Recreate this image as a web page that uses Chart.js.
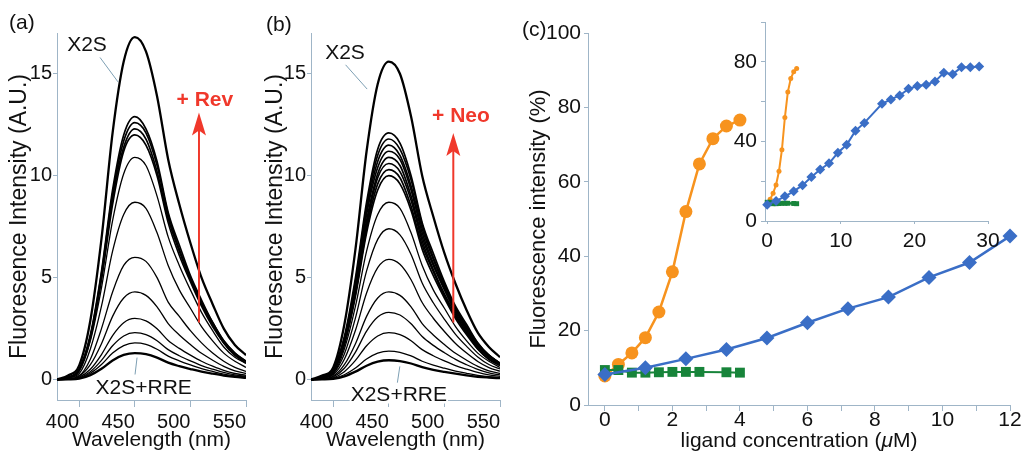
<!DOCTYPE html>
<html>
<head>
<meta charset="utf-8">
<script src="https://cdn.jsdelivr.net/npm/chart.js@4.4.0/dist/chart.umd.min.js"></script>
<style>
  body { margin: 0; background: #fff; width: 1026px; height: 453px; position: relative; overflow: hidden; font-family: "Liberation Sans", Arial, sans-serif; }
  canvas { position: absolute; top: 0; }
  .panel { position: absolute; font-size: 21px; line-height: 24px; color: #111; }
</style>
</head>
<body>
<canvas id="grafA" width="254" height="453" style="left:0"></canvas>
<canvas id="grafB" width="262" height="453" style="left:254px"></canvas>
<canvas id="grafC" width="510" height="453" style="left:516px"></canvas>
<canvas id="grafInset" width="306" height="256" style="left:720px"></canvas>
<div class="panel" style="left:9px;top:10px">(a)</div>
<div class="panel" style="left:266px;top:12px">(b)</div>
<div class="panel" style="left:522px;top:17px">(c)</div>
<script>
// DATOS
const wavelengths = [380, 390, 400, 410, 420, 430, 440, 450, 460, 470, 480, 490, 500, 510, 520, 530, 540, 550];

// (a) X2S + Rev, de X2S (arriba) a X2S+RRE (abajo)
const spectraRev = [
  [0, 0.2, 0.7, 2.9, 6.9, 12.1, 15.6, 16.8, 16.1, 13.9, 10.8, 8.6, 6.7, 5.0, 3.7, 2.5, 1.7, 1.2],
  [0, 0.1, 0.5, 2.2, 5.3, 9.3, 12.0, 12.9, 12.3, 10.7, 8.2, 6.6, 5.1, 3.9, 2.8, 1.9, 1.3, 0.9],
  [0, 0.1, 0.5, 2.1, 5.2, 9.1, 11.7, 12.6, 12.1, 10.5, 8.1, 6.4, 5.0, 3.8, 2.8, 1.9, 1.3, 0.9],
  [0, 0.1, 0.5, 2.1, 5.0, 8.9, 11.4, 12.3, 11.8, 10.2, 7.9, 6.3, 4.9, 3.7, 2.7, 1.8, 1.2, 0.9],
  [0, 0.1, 0.5, 2.0, 4.9, 8.6, 11.2, 12.0, 11.5, 10.0, 7.7, 6.1, 4.8, 3.6, 2.6, 1.8, 1.2, 0.8],
  [0, 0.1, 0.4, 1.9, 4.5, 7.8, 10.1, 10.9, 10.5, 9.0, 7.0, 5.6, 4.4, 3.3, 2.4, 1.6, 1.1, 0.8],
  [0, 0.1, 0.3, 1.5, 3.6, 6.3, 8.1, 8.7, 8.4, 7.2, 5.6, 4.4, 3.5, 2.6, 1.9, 1.3, 0.9, 0.6],
  [0, 0.1, 0.2, 1.0, 2.5, 4.3, 5.6, 6.0, 5.8, 5.0, 3.8, 3.1, 2.4, 1.8, 1.3, 0.9, 0.6, 0.4],
  [0, 0.04, 0.17, 0.73, 1.76, 3.10, 4.00, 4.30, 4.13, 3.57, 2.75, 2.19, 1.72, 1.29, 0.95, 0.65, 0.43, 0.30],
  [0, 0.03, 0.12, 0.51, 1.23, 2.16, 2.79, 3.00, 2.88, 2.49, 1.92, 1.53, 1.20, 0.90, 0.66, 0.45, 0.30, 0.21],
  [0, 0.02, 0.09, 0.39, 0.94, 1.66, 2.14, 2.30, 2.21, 1.91, 1.47, 1.17, 0.92, 0.69, 0.51, 0.35, 0.23, 0.16],
  [0, 0.02, 0.07, 0.31, 0.74, 1.30, 1.67, 1.80, 1.73, 1.49, 1.15, 0.92, 0.72, 0.54, 0.40, 0.27, 0.18, 0.13],
  [0, 0.01, 0.05, 0.22, 0.53, 0.94, 1.21, 1.30, 1.25, 1.08, 0.83, 0.66, 0.52, 0.39, 0.29, 0.20, 0.13, 0.09]
];

// (b) X2S + Neo
const spectraNeo = [
  [0, 0.2, 0.6, 2.7, 6.4, 11.2, 14.5, 15.6, 15.0, 12.9, 10.0, 8.0, 6.2, 4.7, 3.4, 2.3, 1.6, 1.1],
  [0, 0.1, 0.5, 2.1, 5.0, 8.7, 11.3, 12.1, 11.6, 10.0, 7.7, 6.2, 4.8, 3.6, 2.7, 1.8, 1.2, 0.8],
  [0, 0.1, 0.5, 2.0, 4.8, 8.5, 11.0, 11.8, 11.3, 9.8, 7.6, 6.0, 4.7, 3.5, 2.6, 1.8, 1.2, 0.8],
  [0, 0.1, 0.5, 2.0, 4.7, 8.3, 10.7, 11.5, 11.0, 9.5, 7.4, 5.9, 4.6, 3.5, 2.5, 1.7, 1.2, 0.8],
  [0, 0.1, 0.4, 1.9, 4.6, 8.1, 10.4, 11.2, 10.8, 9.3, 7.2, 5.7, 4.5, 3.4, 2.5, 1.7, 1.1, 0.8],
  [0, 0.1, 0.4, 1.9, 4.5, 7.8, 10.1, 10.9, 10.5, 9.0, 7.0, 5.6, 4.4, 3.3, 2.4, 1.6, 1.1, 0.8],
  [0, 0.1, 0.4, 1.8, 4.3, 7.6, 9.9, 10.6, 10.2, 8.8, 6.8, 5.4, 4.2, 3.2, 2.3, 1.6, 1.1, 0.7],
  [0, 0.1, 0.4, 1.8, 4.2, 7.4, 9.6, 10.3, 9.9, 8.5, 6.6, 5.3, 4.1, 3.1, 2.3, 1.5, 1.0, 0.7],
  [0, 0.1, 0.4, 1.7, 4.1, 7.2, 9.3, 10.0, 9.6, 8.3, 6.4, 5.1, 4.0, 3.0, 2.2, 1.5, 1.0, 0.7],
  [0, 0.1, 0.3, 1.5, 3.6, 6.3, 8.1, 8.7, 8.4, 7.2, 5.6, 4.4, 3.5, 2.6, 1.9, 1.3, 0.9, 0.6],
  [0, 0.07, 0.30, 1.26, 3.03, 5.33, 6.88, 7.40, 7.10, 6.14, 4.74, 3.77, 2.96, 2.22, 1.63, 1.11, 0.74, 0.52],
  [0, 0.06, 0.24, 1.00, 2.42, 4.25, 5.49, 5.90, 5.66, 4.90, 3.78, 3.01, 2.36, 1.77, 1.30, 0.89, 0.59, 0.41],
  [0, 0.04, 0.17, 0.73, 1.76, 3.10, 4.00, 4.30, 4.13, 3.57, 2.75, 2.19, 1.72, 1.29, 0.95, 0.65, 0.43, 0.30],
  [0, 0.03, 0.13, 0.56, 1.35, 2.38, 3.07, 3.30, 3.17, 2.74, 2.11, 1.68, 1.32, 0.99, 0.73, 0.50, 0.33, 0.23],
  [0, 0.02, 0.09, 0.39, 0.94, 1.66, 2.14, 2.30, 2.21, 1.91, 1.47, 1.17, 0.92, 0.69, 0.51, 0.35, 0.23, 0.16],
  [0, 0.01, 0.06, 0.24, 0.57, 1.01, 1.30, 1.40, 1.34, 1.16, 0.90, 0.71, 0.56, 0.42, 0.31, 0.21, 0.14, 0.10],
  [0, 0.01, 0.04, 0.16, 0.39, 0.68, 0.88, 0.95, 0.91, 0.79, 0.61, 0.48, 0.38, 0.29, 0.21, 0.14, 0.10, 0.07]
];

// (c) valoracion con ligando
const orangeX = [0, 0.4, 0.8, 1.2, 1.6, 2.0, 2.4, 2.8, 3.2, 3.6, 4.0];
const orangeY = [7.8, 10.9, 14.0, 18.1, 25.0, 35.8, 52.0, 64.8, 71.6, 75.0, 76.6];
const greenX = [0, 0.4, 0.8, 1.2, 1.6, 2.0, 2.4, 2.8, 3.6, 4.0];
const greenY = [9.4, 9.4, 8.7, 8.7, 8.8, 8.9, 8.9, 8.9, 8.8, 8.7];
const blueX = [0, 1.2, 2.4, 3.6, 4.8, 6.0, 7.2, 8.4, 9.6, 10.8, 12.0, 13.2, 15.6, 16.8, 18.0, 19.2, 20.4, 21.6, 22.8, 24.0, 25.2, 26.4, 27.6, 28.8];
const blueY = [8.2, 10.0, 12.4, 14.9, 18.0, 22.1, 25.9, 29.0, 34.3, 38.3, 45.4, 49.3, 58.9, 61.1, 63.1, 66.4, 67.8, 68.5, 70.1, 74.5, 73.8, 77.3, 77.3, 77.7];

// ticks
const specTicksX = [400, 450, 500, 550];
const specTicksY = [0, 5, 10, 15];
const ligTicksX = [0, 1, 2, 3, 4, 5, 6, 7, 8, 9, 10, 11, 12];
const ligLabelsX = [0, 2, 4, 6, 8, 10, 12];
const ligTicksY = [0, 20, 40, 60, 80, 100];
const insetTicksX = [0, 10, 20, 30];
const insetTicksY = [0, 20, 40, 60, 80, 100];
const insetLabelsY = [0, 40, 80];

const FONT = '"Liberation Sans", Arial, sans-serif';
const AXIS = '#9fb5c7';
const ROJO = '#f0382b';
const NARANJA = '#f7931e';
const AZUL = '#3a6ec6';
const VERDE = '#17843a';

const pares = (xs, ys) => xs.map((v, i) => ({ x: v, y: ys[i] }));

function escala(o) {
  const etiquetas = o.labels || o.ticks;
  return {
    type: 'linear', min: o.min, max: o.max, bounds: 'data',
    border: { color: AXIS, width: 1 },
    grid: { drawOnChartArea: false, drawTicks: true, tickLength: o.tl, color: AXIS },
    ticks: {
      autoSkip: false, maxRotation: 0, padding: o.pad, align: o.align || 'center',
      color: '#111', font: { family: FONT, size: o.fs || 20 },
      callback: v => etiquetas.includes(v) ? String(v) : ''
    },
    title: o.title ? { display: true, text: o.title, color: '#111', font: { family: FONT, size: o.tfs || 21 }, padding: o.tpad } : { display: false },
    afterBuildTicks: s => { s.ticks = o.ticks.map(v => ({ value: v })); },
    afterFit: s => {
      if (s.isHorizontal()) s.height = o.size; else s.width = o.size;
      s.paddingLeft = 0; s.paddingRight = 0; s.paddingTop = 0; s.paddingBottom = 0;
    }
  };
}

// textos, guias y flecha sobre los espectros
const anotaciones = {
  id: 'anotaciones',
  afterDatasetsDraw(chart, args, o) {
    if (!o.textos) return;
    const ctx = chart.ctx, sx = chart.scales.x, sy = chart.scales.y;
    const px = v => sx.getPixelForValue(v), py = v => sy.getPixelForValue(v);
    ctx.save();
    ctx.strokeStyle = '#7d9fb3'; ctx.lineWidth = 1;
    o.guias.forEach(g => {
      ctx.beginPath(); ctx.moveTo(px(g[0]), py(g[1])); ctx.lineTo(px(g[2]), py(g[3])); ctx.stroke();
    });
    const f = o.flecha, fx = px(f.x), y0 = py(f.desde), y1 = py(f.hasta);
    ctx.strokeStyle = ROJO; ctx.lineWidth = 2;
    ctx.beginPath(); ctx.moveTo(fx, y0); ctx.lineTo(fx, y1 + 16); ctx.stroke();
    ctx.fillStyle = ROJO;
    ctx.beginPath(); ctx.moveTo(fx, y1); ctx.lineTo(fx - 7, y1 + 23); ctx.lineTo(fx, y1 + 18); ctx.lineTo(fx + 7, y1 + 23); ctx.closePath(); ctx.fill();
    ctx.textAlign = 'center'; ctx.textBaseline = 'middle';
    o.textos.forEach(t => {
      ctx.font = (t.negrita ? 'bold ' : '') + '21px ' + FONT;
      const tx = px(t.x), ty = py(t.y);
      if (t.fondo) {
        const w = ctx.measureText(t.texto).width;
        ctx.fillStyle = '#fff'; ctx.fillRect(tx - w / 2 - 1, ty - 8, w + 2, 16);
      }
      ctx.fillStyle = t.color || '#111';
      ctx.fillText(t.texto, tx, ty);
    });
    ctx.restore();
  }
};

function espectro(id, curvas, ancho, notas) {
  const ultimo = curvas.length - 1;
  return new Chart(document.getElementById(id), {
    type: 'line',
    data: {
      datasets: curvas.map((c, i) => ({
        data: pares(wavelengths, c),
        borderColor: '#000',
        borderWidth: (i === 0 || i === ultimo) ? 2.3 : (i <= ancho ? 1.7 : 1.3),
        pointRadius: 0, cubicInterpolationMode: 'monotone', fill: false
      }))
    },
    options: {
      responsive: false, animation: false, devicePixelRatio: 1, events: [],
      layout: { padding: { left: 0, top: 33, right: id === 'grafA' ? 8 : 16, bottom: 0 } },
      plugins: { legend: { display: false }, tooltip: { enabled: false }, anotaciones: notas },
      scales: {
        x: escala({ min: 380, max: 550, ticks: specTicksX, size: 53, tl: 7, pad: 3, align: 'end',
                    title: 'Wavelength (nm)', tpad: { top: 0, bottom: 0 } }),
        y: escala({ min: -1, max: 17, ticks: specTicksY, size: 57, tl: 4, pad: 1, tfs: 23,
                    title: 'Fluoresence Intensity (A.U.)', tpad: { top: id === 'grafA' ? 6 : 8, bottom: 0 } })
      }
    },
    plugins: [anotaciones]
  });
}

// GRAFICO (a)
espectro('grafA', spectraRev, 4, {
  textos: [
    { texto: 'X2S', x: 407, y: 16.4 },
    { texto: '+ Rev', x: 513, y: 13.7, negrita: true, color: ROJO },
    { texto: 'X2S+RRE', x: 458, y: -0.4 }
  ],
  guias: [[418.7, 15.8, 434.9, 14.6], [450.2, 0.25, 452, 1.08]],
  flecha: { x: 507.7, desde: 2.8, hasta: 13.1 }
});

// GRAFICO (b)
espectro('grafB', spectraNeo, 8, {
  textos: [
    { texto: 'X2S', x: 410.6, y: 16.0 },
    { texto: '+ Neo', x: 514.9, y: 12.9, negrita: true, color: ROJO },
    { texto: 'X2S+RRE', x: 459, y: -0.78, fondo: true }
  ],
  guias: [[411.1, 15.44, 430.5, 14.25], [457.7, -0.15, 459.9, 0.65]],
  flecha: { x: 508, desde: 2.8, hasta: 12.1 }
});

// titulo del eje x de (c) con la mu en cursiva
const tituloMu = {
  id: 'tituloMu',
  afterDraw(chart) {
    const ctx = chart.ctx, a = chart.chartArea;
    const partes = [['ligand concentration (', '21px '], ['\u03bc', 'italic 21px '], ['M)', '21px ']];
    ctx.save();
    let total = 0;
    partes.forEach(p => { ctx.font = p[1] + FONT; total += ctx.measureText(p[0]).width; });
    let x = (a.left + a.right) / 2 - total / 2;
    ctx.fillStyle = '#111'; ctx.textBaseline = 'middle'; ctx.textAlign = 'left';
    partes.forEach(p => { ctx.font = p[1] + FONT; ctx.fillText(p[0], x, 441); x += ctx.measureText(p[0]).width; });
    ctx.restore();
  }
};

const opcionesBase = {
  responsive: false, animation: false, devicePixelRatio: 1, events: [],
  plugins: { legend: { display: false }, tooltip: { enabled: false } }
};

// GRAFICO (c)
new Chart(document.getElementById('grafC'), {
  type: 'line',
  data: {
    datasets: [
      { data: pares(blueX.slice(0, 11), blueY.slice(0, 11)), borderColor: AZUL, borderWidth: 2.5,
        pointStyle: 'rectRot', pointRadius: 7.5, pointBackgroundColor: AZUL, pointBorderWidth: 0, clip: false },
      { data: pares(greenX, greenY), borderColor: VERDE, borderWidth: 2,
        pointStyle: 'rect', pointRadius: 7, pointBackgroundColor: VERDE, pointBorderWidth: 0, clip: false },
      { data: pares(orangeX, orangeY), borderColor: NARANJA, borderWidth: 2.5,
        pointStyle: 'circle', pointRadius: 6.5, pointBackgroundColor: NARANJA, pointBorderWidth: 0, clip: false }
    ]
  },
  options: {
    ...opcionesBase,
    layout: { padding: { left: 0, top: 33, right: 16, bottom: 0 } },
    scales: {
      x: escala({ min: -0.5, max: 12, ticks: ligTicksX, labels: ligLabelsX, size: 48, tl: 6, pad: -3, fs: 21 }),
      y: escala({ min: 0, max: 100, ticks: ligTicksY, size: 72, tl: 4, pad: 3, fs: 21, tfs: 22,
                  title: 'Fluorescence intensity (%)', tpad: { top: 10, bottom: 0 } })
    }
  },
  plugins: [tituloMu]
});

// RECUADRO (inset)
new Chart(document.getElementById('grafInset'), {
  type: 'line',
  data: {
    datasets: [
      { data: pares(blueX, blueY), borderColor: AZUL, borderWidth: 2,
        pointStyle: 'rectRot', pointRadius: 5, pointBackgroundColor: AZUL, pointBorderWidth: 0, clip: false },
      { data: pares(greenX, greenY), borderColor: VERDE, borderWidth: 2.5,
        pointStyle: 'rect', pointRadius: 3.5, pointBackgroundColor: VERDE, pointBorderWidth: 0, clip: false },
      { data: pares(orangeX, orangeY), borderColor: NARANJA, borderWidth: 2,
        pointStyle: 'circle', pointRadius: 2.5, pointBackgroundColor: NARANJA, pointBorderWidth: 0, clip: false }
    ]
  },
  options: {
    ...opcionesBase,
    layout: { padding: { left: 0, top: 22, right: 38, bottom: 0 } },
    scales: {
      x: escala({ min: -0.3, max: 30, ticks: insetTicksX, size: 35, tl: 3, pad: 5, fs: 21 }),
      y: escala({ min: 0, max: 100, ticks: insetTicksY, labels: insetLabelsY, size: 45, tl: 4, pad: 4, fs: 21 })
    }
  }
});
</script>
</body>
</html>
